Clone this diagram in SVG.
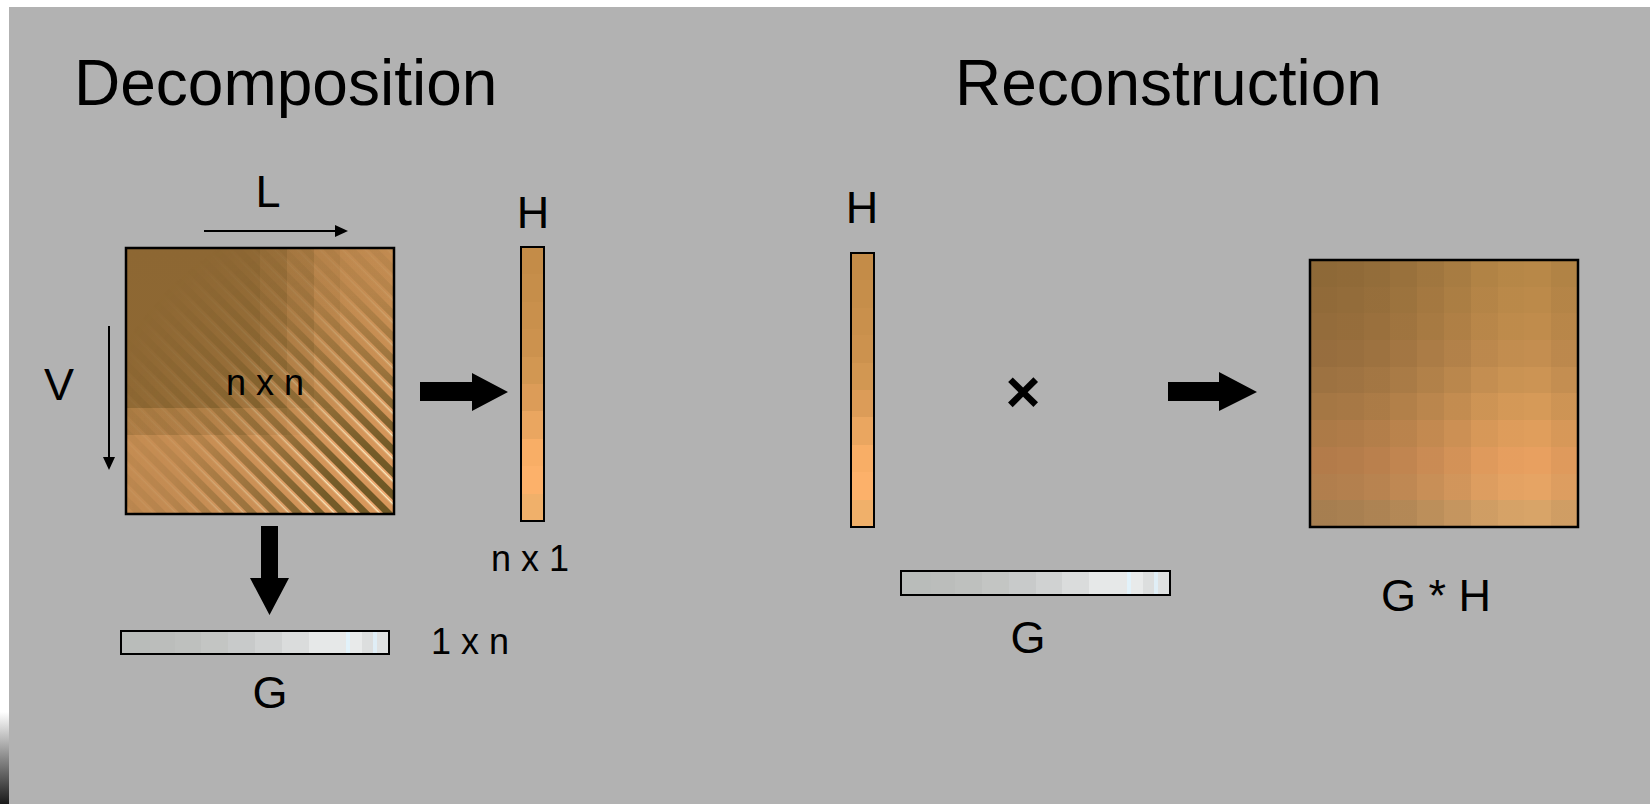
<svg xmlns="http://www.w3.org/2000/svg" width="1650" height="804" viewBox="0 0 1650 804">
  <style>
    .title { font-family: "Liberation Sans", Arial, sans-serif; font-size: 64px; fill: #000; }
    .lbl { font-family: "Liberation Sans", Arial, sans-serif; font-size: 45px; fill: #000; text-anchor: middle; }
    .dim { font-family: "Liberation Sans", Arial, sans-serif; font-size: 36px; fill: #000; text-anchor: middle; }
    .frame { fill: none; stroke: #000; stroke-width: 2.5; }
    .thin { stroke: #000; stroke-width: 2; fill: none; }
    .fat { fill: #000; }
  </style>
  <defs>
    <!-- column vector values: warm browns to orange, top to bottom -->
    <linearGradient id="hVec" x1="0" y1="0" x2="0" y2="1">
      <stop offset="0" stop-color="#c48c48"/><stop offset="0.1" stop-color="#c48c48"/>
      <stop offset="0.1" stop-color="#c68e4a"/><stop offset="0.2" stop-color="#c68e4a"/>
      <stop offset="0.2" stop-color="#c9904c"/><stop offset="0.3" stop-color="#c9904c"/>
      <stop offset="0.3" stop-color="#cc924e"/><stop offset="0.4" stop-color="#cc924e"/>
      <stop offset="0.4" stop-color="#d29752"/><stop offset="0.5" stop-color="#d29752"/>
      <stop offset="0.5" stop-color="#dc9c58"/><stop offset="0.6" stop-color="#dc9c58"/>
      <stop offset="0.6" stop-color="#eaa660"/><stop offset="0.7" stop-color="#eaa660"/>
      <stop offset="0.7" stop-color="#f8ae66"/><stop offset="0.8" stop-color="#f8ae66"/>
      <stop offset="0.8" stop-color="#fcb16a"/><stop offset="0.9" stop-color="#fcb16a"/>
      <stop offset="0.9" stop-color="#f0b06a"/><stop offset="1" stop-color="#f0b06a"/>
    </linearGradient>
    <!-- row vector values: greys, left to right -->
    <linearGradient id="gVec" x1="0" y1="0" x2="1" y2="0">
      <stop offset="0" stop-color="#b9bcba"/><stop offset="0.11" stop-color="#b9bcba"/>
      <stop offset="0.11" stop-color="#bbbdbb"/><stop offset="0.2" stop-color="#bbbdbb"/>
      <stop offset="0.2" stop-color="#bec0be"/><stop offset="0.3" stop-color="#bec0be"/>
      <stop offset="0.3" stop-color="#c3c5c3"/><stop offset="0.4" stop-color="#c3c5c3"/>
      <stop offset="0.4" stop-color="#c8caca"/><stop offset="0.5" stop-color="#c8caca"/>
      <stop offset="0.5" stop-color="#d0d2d2"/><stop offset="0.6" stop-color="#d0d2d2"/>
      <stop offset="0.6" stop-color="#dadcdc"/><stop offset="0.7" stop-color="#dadcdc"/>
      <stop offset="0.7" stop-color="#e6e8e8"/><stop offset="0.84" stop-color="#e6e8e8"/>
      <stop offset="0.84" stop-color="#e2f2fa"/><stop offset="0.855" stop-color="#e2f2fa"/>
      <stop offset="0.855" stop-color="#e8eaea"/><stop offset="0.9" stop-color="#e8eaea"/>
      <stop offset="0.9" stop-color="#dcdede"/><stop offset="0.94" stop-color="#dcdede"/>
      <stop offset="0.94" stop-color="#e0eef6"/><stop offset="0.955" stop-color="#e0eef6"/>
      <stop offset="0.955" stop-color="#dfe1e1"/><stop offset="1" stop-color="#dfe1e1"/>
    </linearGradient>
    <!-- product matrix: row colours -->
    <linearGradient id="prodRows" x1="0" y1="0" x2="0" y2="1">
      <stop offset="0" stop-color="#b88848"/><stop offset="0.1" stop-color="#b88848"/>
      <stop offset="0.1" stop-color="#bc8a4a"/><stop offset="0.2" stop-color="#bc8a4a"/>
      <stop offset="0.2" stop-color="#c08c4c"/><stop offset="0.3" stop-color="#c08c4c"/>
      <stop offset="0.3" stop-color="#c48e50"/><stop offset="0.4" stop-color="#c48e50"/>
      <stop offset="0.4" stop-color="#cc9454"/><stop offset="0.5" stop-color="#cc9454"/>
      <stop offset="0.5" stop-color="#d69a58"/><stop offset="0.6" stop-color="#d69a58"/>
      <stop offset="0.6" stop-color="#e09e5c"/><stop offset="0.7" stop-color="#e09e5c"/>
      <stop offset="0.7" stop-color="#e8a060"/><stop offset="0.8" stop-color="#e8a060"/>
      <stop offset="0.8" stop-color="#e6a464"/><stop offset="0.9" stop-color="#e6a464"/>
      <stop offset="0.9" stop-color="#d8a468"/><stop offset="1" stop-color="#d8a468"/>
    </linearGradient>
    <!-- product matrix: column shading -->
    <linearGradient id="prodCols" x1="0" y1="0" x2="1" y2="0">
      <stop offset="0" stop-color="#000" stop-opacity="0.23"/><stop offset="0.1" stop-color="#000" stop-opacity="0.23"/>
      <stop offset="0.1" stop-color="#000" stop-opacity="0.22"/><stop offset="0.2" stop-color="#000" stop-opacity="0.22"/>
      <stop offset="0.2" stop-color="#000" stop-opacity="0.2"/><stop offset="0.3" stop-color="#000" stop-opacity="0.2"/>
      <stop offset="0.3" stop-color="#000" stop-opacity="0.17"/><stop offset="0.4" stop-color="#000" stop-opacity="0.17"/>
      <stop offset="0.4" stop-color="#000" stop-opacity="0.13"/><stop offset="0.5" stop-color="#000" stop-opacity="0.13"/>
      <stop offset="0.5" stop-color="#000" stop-opacity="0.09"/><stop offset="0.6" stop-color="#000" stop-opacity="0.09"/>
      <stop offset="0.6" stop-color="#000" stop-opacity="0.04"/><stop offset="0.7" stop-color="#000" stop-opacity="0.04"/>
      <stop offset="0.7" stop-color="#000" stop-opacity="0.01"/><stop offset="0.8" stop-color="#000" stop-opacity="0.01"/>
      <stop offset="0.8" stop-color="#000" stop-opacity="0"/><stop offset="0.9" stop-color="#000" stop-opacity="0"/>
      <stop offset="0.9" stop-color="#000" stop-opacity="0.04"/><stop offset="1" stop-color="#000" stop-opacity="0.04"/>
    </linearGradient>
    <!-- source matrix: base rows -->
    <linearGradient id="srcRows" x1="0" y1="0" x2="0" y2="1">
      <stop offset="0" stop-color="#c08a50"/><stop offset="0.6" stop-color="#c28c50"/>
      <stop offset="0.7" stop-color="#c48c52"/><stop offset="1" stop-color="#c08a52"/>
    </linearGradient>
    <!-- source matrix: dark upper-left block -->
    <linearGradient id="srcDark" x1="0" y1="0" x2="1" y2="0">
      <stop offset="0" stop-color="#5a4416" stop-opacity="0.5"/><stop offset="0.5" stop-color="#5a4416" stop-opacity="0.5"/>
      <stop offset="0.5" stop-color="#5a4416" stop-opacity="0.42"/><stop offset="0.6" stop-color="#5a4416" stop-opacity="0.42"/>
      <stop offset="0.6" stop-color="#5a4416" stop-opacity="0.28"/><stop offset="0.7" stop-color="#5a4416" stop-opacity="0.28"/>
      <stop offset="0.7" stop-color="#5a4416" stop-opacity="0.12"/><stop offset="0.8" stop-color="#5a4416" stop-opacity="0.12"/>
      <stop offset="0.8" stop-color="#5a4416" stop-opacity="0.03"/><stop offset="1" stop-color="#5a4416" stop-opacity="0.0"/>
    </linearGradient>
    <!-- diagonal banding of the source matrix -->
    <pattern id="stripes" patternUnits="userSpaceOnUse" width="16" height="16" patternTransform="translate(394 514) rotate(45)">
      <rect x="0" y="0" width="16" height="7" fill="#6c5624"/>
      <rect x="0" y="7" width="16" height="2" fill="#eca870"/>
      <rect x="0" y="9" width="16" height="1.6" fill="#fff2c8"/>
      <rect x="0" y="10.6" width="16" height="5.4" fill="#d8985c"/>
    </pattern>
    <radialGradient id="stripeFade" gradientUnits="userSpaceOnUse" cx="394" cy="514" r="320">
      <stop offset="0" stop-color="#fff" stop-opacity="1"/>
      <stop offset="0.22" stop-color="#fff" stop-opacity="0.9"/>
      <stop offset="0.45" stop-color="#fff" stop-opacity="0.45"/>
      <stop offset="0.7" stop-color="#fff" stop-opacity="0.12"/>
      <stop offset="1" stop-color="#fff" stop-opacity="0"/>
    </radialGradient>
    <mask id="stripeMask" maskUnits="userSpaceOnUse" x="126" y="248" width="268" height="266">
      <rect x="126" y="248" width="268" height="266" fill="url(#stripeFade)"/>
    </mask>
    <linearGradient id="edgeShade" x1="0" y1="0" x2="0" y2="1">
      <stop offset="0" stop-color="#fff"/>
      <stop offset="0.5" stop-color="#8a8a8a"/>
      <stop offset="1" stop-color="#1a1a1a"/>
    </linearGradient>
  </defs>

  <!-- page -->
  <rect x="0" y="0" width="1650" height="804" fill="#fff"/>
  <rect x="9" y="7" width="1641" height="797" fill="#b2b2b2"/>
  <rect x="0" y="712" width="9" height="92" fill="url(#edgeShade)"/>

  <g id="titles">
    <text class="title" x="74" y="105">Decomposition</text>
    <text class="title" x="955" y="105">Reconstruction</text>
  </g>

  <!-- decomposition side -->
  <g id="matrix-source">
    <rect x="126" y="248" width="268" height="266" fill="url(#srcRows)"/>
    <rect x="126" y="248" width="268" height="160" fill="url(#srcDark)"/>
    <rect x="126" y="408" width="268" height="27" fill="url(#srcDark)" opacity="0.45"/>
    <rect x="126" y="248" width="268" height="266" fill="url(#stripes)" mask="url(#stripeMask)"/>
    <rect class="frame" x="126" y="248" width="268" height="266"/>
    <text class="dim" x="265" y="395">n x n</text>
  </g>

  <g id="axis-L">
    <text class="lbl" x="268" y="207">L</text>
  </g>
  <g id="axis-V">
    <text class="lbl" x="59" y="400">V</text>
  </g>

  <g id="vector-H-left">
    <text class="lbl" x="533" y="228">H</text>
    <rect x="521" y="247" width="23" height="274" fill="url(#hVec)" stroke="#000" stroke-width="2"/>
    <text class="dim" x="530" y="571">n x 1</text>
  </g>

  <g id="vector-G-left">
    <rect x="121" y="631" width="268" height="23" fill="url(#gVec)" stroke="#000" stroke-width="2"/>
    <text class="dim" x="470" y="654">1 x n</text>
    <text class="lbl" x="270" y="708">G</text>
  </g>

  <!-- reconstruction side -->
  <g id="vector-H-right">
    <text class="lbl" x="862" y="223">H</text>
    <rect x="851" y="253" width="23" height="274" fill="url(#hVec)" stroke="#000" stroke-width="2"/>
  </g>

  <g id="times">
    <text class="lbl" x="1023" y="412" style="font-size:60px;font-weight:bold">×</text>
  </g>

  <g id="vector-G-right">
    <rect x="901" y="571" width="269" height="24" fill="url(#gVec)" stroke="#000" stroke-width="2"/>
    <text class="lbl" x="1028" y="653">G</text>
  </g>

  <g id="matrix-product">
    <rect x="1310" y="260" width="268" height="267" fill="url(#prodRows)"/>
    <rect x="1310" y="260" width="268" height="267" fill="url(#prodCols)"/>
    <rect class="frame" x="1310" y="260" width="268" height="267"/>
    <text class="lbl" x="1436" y="611">G * H</text>
  </g>

  <g id="connectors">
    <!-- L direction -->
    <line class="thin" x1="204" y1="231" x2="336" y2="231"/>
    <polygon class="fat" points="348,231 335,225 335,237"/>
    <!-- V direction -->
    <line class="thin" x1="109" y1="326" x2="109" y2="458"/>
    <polygon class="fat" points="109,470 103,457 115,457"/>
    <!-- matrix to H -->
    <polygon class="fat" points="420,382 472,382 472,373 508,392 472,411 472,401 420,401"/>
    <!-- matrix to G -->
    <polygon class="fat" points="261,526 278,526 278,578 289,578 269.5,615 250,578 261,578"/>
    <!-- product to result -->
    <polygon class="fat" points="1168,382 1219,382 1219,372 1257,392 1219,411 1219,401 1168,401"/>
  </g>
</svg>
